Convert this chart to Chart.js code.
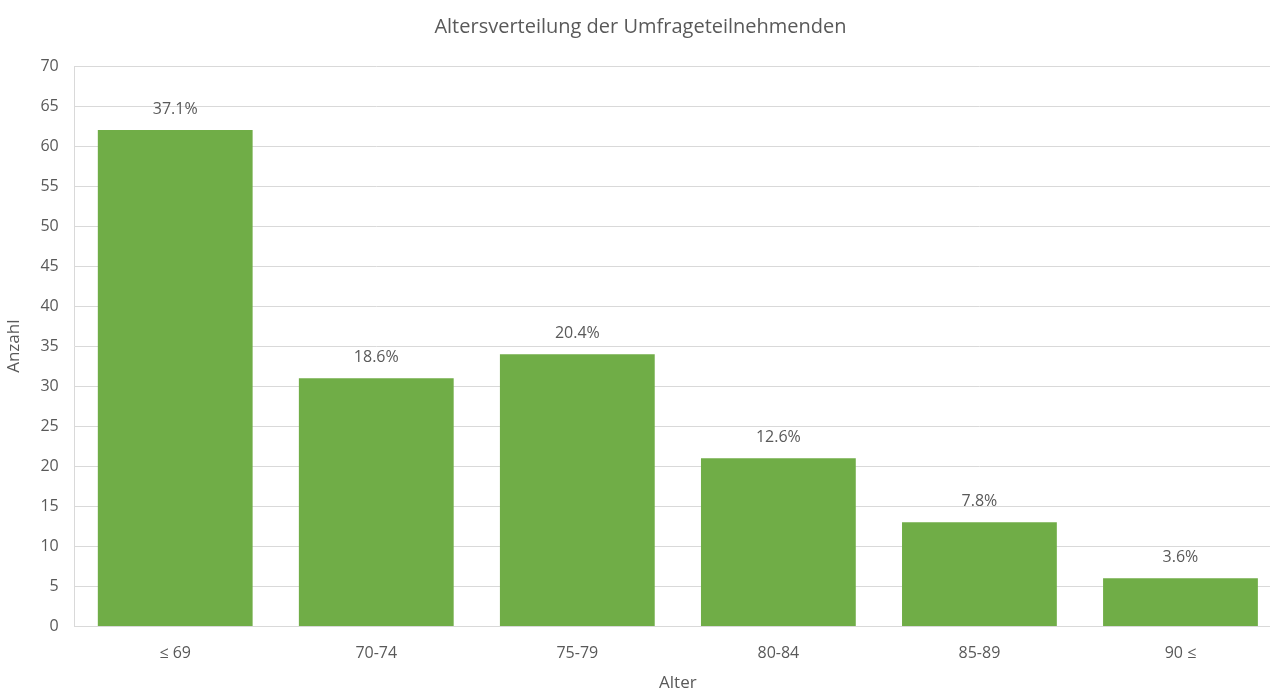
<!DOCTYPE html>
<html>
<head>
<meta charset="utf-8">
<script src="https://cdn.jsdelivr.net/npm/chart.js@4"></script>
<style>
html,body{margin:0;padding:0;background:#fff;overflow:hidden;}
#wrap{width:1270px;height:690px;overflow:hidden;}
</style>
</head>
<body>
<div id="wrap"><canvas id="c" width="1281" height="690"></canvas></div>
<script>
const categories = ["≤ 69", "70-74", "75-79", "80-84", "85-89", "90 ≤"];
const counts = [62, 31, 34, 21, 13, 6];
const percentLabels = ["37.1%", "18.6%", "20.4%", "12.6%", "7.8%", "3.6%"];
const yTicks = [0, 5, 10, 15, 20, 25, 30, 35, 40, 45, 50, 55, 60, 65, 70];

const FONT = "'Open Sans', 'Liberation Sans', sans-serif";
const TXT = "#595959";

const labelPlugin = {
  id: 'barLabels',
  afterDatasetsDraw(chart) {
    const ctx = chart.ctx;
    const meta = chart.getDatasetMeta(0);
    ctx.save();
    ctx.font = "16px " + FONT;
    ctx.fillStyle = TXT;
    ctx.textAlign = "center";
    ctx.textBaseline = "middle";
    meta.data.forEach((bar, i) => {
      ctx.fillText(percentLabels[i], bar.x, bar.y - 21);
    });
    ctx.restore();
  }
};

new Chart(document.getElementById('c'), {
  type: 'bar',
  data: {
    labels: categories,
    datasets: [{
      data: counts,
      backgroundColor: '#70AD47',
      categoryPercentage: 1.0,
      barPercentage: 0.77
    }]
  },
  options: {
    responsive: false,
    animation: false,
    layout: { padding: { top: 15, right: 0, left: 0, bottom: -3 } },
    plugins: {
      legend: { display: false },
      tooltip: { enabled: false },
      title: {
        display: true,
        text: 'Altersverteilung der Umfrageteilnehmenden',
        color: TXT,
        font: { family: FONT, size: 20, weight: 'normal' },
        padding: { top: 0, bottom: 27 }
      }
    },
    scales: {
      x: {
        grid: { display: false },
        border: { display: true, color: '#d9d9d9' },
        ticks: { color: TXT, font: { family: FONT, size: 16 }, padding: 9 },
        title: { display: true, text: 'Alter', color: TXT, font: { family: FONT, size: 17 }, padding: { top: 1, bottom: 0 } }
      },
      y: {
        min: 0, max: 70,
        afterBuildTicks(axis) { axis.ticks = yTicks.map(v => ({ value: v })); },
        grid: { color: '#d9d9d9', drawTicks: false },
        border: { display: true, color: '#d9d9d9' },
        ticks: { color: TXT, font: { family: FONT, size: 16 }, padding: 16 },
        title: { display: true, text: 'Anzahl', color: TXT, font: { family: FONT, size: 17 }, padding: { top: 4, bottom: 0 } }
      }
    }
  },
  plugins: [labelPlugin]
});
</script>
</body>
</html>
